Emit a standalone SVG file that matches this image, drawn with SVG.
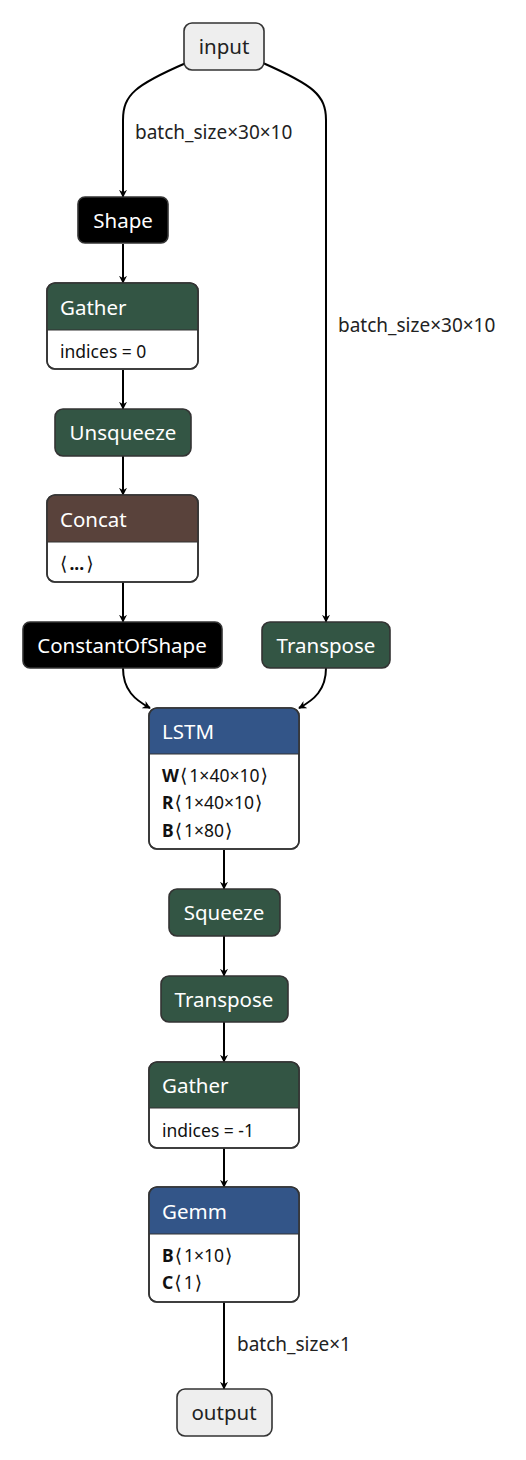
<svg xmlns="http://www.w3.org/2000/svg" width="526" height="1460" viewBox="0 0 526 1460">
<defs>
<marker id="arr" viewBox="0 0 10 10" refX="9" refY="5" markerWidth="8" markerHeight="8" markerUnits="userSpaceOnUse" orient="auto">
<path d="M0,0 L10,5 L0,10 L3,5 Z" fill="#000"/>
</marker>
<style>
.box{stroke:#333;stroke-width:1.6}
.io{fill:#eeeeee}
.blk{fill:#000}
.grn{fill:#335544}
.blu{fill:#335588}
.brn{fill:#59423b}
.wht{fill:#fff}
.t{font-family:"Noto Sans","Open Sans",sans-serif;font-size:20.5px}
.tw{fill:#fff}
.tb{fill:#222}
.a{font-family:"Noto Sans","DejaVu Sans",sans-serif;font-size:17.5px;fill:#111}
.b{font-weight:bold}
.br{font-family:"DejaVu Sans",sans-serif;font-size:19px;font-weight:normal}
.lbl{font-family:"Noto Sans",sans-serif;font-size:19px;fill:#222}
.e{fill:none;stroke:#000;stroke-width:2;marker-end:url(#arr)}
</style>
</defs>
<g id="edges">
<path class="e" d="M186,63 C135,85 123,95 123,120 L123,197"/>
<path class="e" d="M263,63 C313,85 326,95 326,120 L326,622"/>
<path class="e" d="M123,244 L123,283"/>
<path class="e" d="M123,370 L123,409"/>
<path class="e" d="M123,456 L123,495"/>
<path class="e" d="M123,582 L123,622"/>
<path class="e" d="M123,668 C123,690 135,700 150,708"/>
<path class="e" d="M326,668 C326,690 314,700 299,708"/>
<path class="e" d="M224,850 L224,889"/>
<path class="e" d="M224,936 L224,976"/>
<path class="e" d="M224,1022 L224,1062"/>
<path class="e" d="M224,1148 L224,1187"/>
<path class="e" d="M224,1302 L224,1389"/>
<text class="lbl" x="135" y="139">batch_size×30×10</text>
<text class="lbl" x="338" y="332">batch_size×30×10</text>
<text class="lbl" x="237" y="1351">batch_size×1</text>
</g>
<g id="input">
<rect class="box io" x="184" y="23" width="80" height="47" rx="8"/>
<text class="t tb" x="224" y="54" text-anchor="middle">input</text>
</g>
<g id="shape">
<rect class="box blk" x="78" y="197" width="90" height="46" rx="7"/>
<text class="t tw" x="123" y="228" text-anchor="middle">Shape</text>
</g>
<g id="gather1">
<rect class="box wht" x="47" y="283" width="151" height="86" rx="8"/>
<path class="grn" d="M55,283 H190 A8,8 0 0 1 198,291 V330 H47 V291 A8,8 0 0 1 55,283 Z"/>
<rect x="47" y="283" width="151" height="86" rx="8" fill="none" stroke="#333" stroke-width="1.6"/>
<line x1="47" y1="330" x2="198" y2="330" stroke="#333" stroke-width="1.2"/>
<text class="t tw" x="60" y="315">Gather</text>
<text class="a" x="60" y="358">indices = 0</text>
</g>
<g id="unsqueeze">
<rect class="box grn" x="55" y="409" width="136" height="47" rx="8"/>
<text class="t tw" x="123" y="440" text-anchor="middle">Unsqueeze</text>
</g>
<g id="concat">
<rect class="box wht" x="47" y="495" width="151" height="87" rx="8"/>
<path class="brn" d="M55,495 H190 A8,8 0 0 1 198,503 V542 H47 V503 A8,8 0 0 1 55,495 Z"/>
<rect x="47" y="495" width="151" height="87" rx="8" fill="none" stroke="#333" stroke-width="1.6"/>
<line x1="47" y1="542" x2="198" y2="542" stroke="#333" stroke-width="1.2"/>
<text class="t tw" x="60" y="527">Concat</text>
<text class="a" x="60" y="570"><tspan class="br">⟨</tspan><tspan class="b" dx="2">...</tspan><tspan class="br" dx="2">⟩</tspan></text>
</g>
<g id="constantofshape">
<rect class="box blk" x="23" y="622" width="199" height="46" rx="7"/>
<text class="t tw" x="122" y="653" text-anchor="middle">ConstantOfShape</text>
</g>
<g id="transpose1">
<rect class="box grn" x="262" y="622" width="128" height="46" rx="8"/>
<text class="t tw" x="326" y="653" text-anchor="middle">Transpose</text>
</g>
<g id="lstm">
<rect class="box wht" x="149" y="708" width="150" height="141" rx="8"/>
<path class="blu" d="M157,708 H291 A8,8 0 0 1 299,716 V754 H149 V716 A8,8 0 0 1 157,708 Z"/>
<rect x="149" y="708" width="150" height="141" rx="8" fill="none" stroke="#333" stroke-width="1.6"/>
<line x1="149" y1="754" x2="299" y2="754" stroke="#333" stroke-width="1.2"/>
<text class="t tw" x="162" y="739">LSTM</text>
<text class="a" x="162" y="782"><tspan class="b">W</tspan><tspan class="br" dx="1">⟨</tspan><tspan dx="2">1×40×10</tspan><tspan class="br" dx="1">⟩</tspan></text>
<text class="a" x="162" y="809"><tspan class="b">R</tspan><tspan class="br" dx="1">⟨</tspan><tspan dx="2">1×40×10</tspan><tspan class="br" dx="1">⟩</tspan></text>
<text class="a" x="162" y="837"><tspan class="b">B</tspan><tspan class="br" dx="1">⟨</tspan><tspan dx="2">1×80</tspan><tspan class="br" dx="1">⟩</tspan></text>
</g>
<g id="squeeze">
<rect class="box grn" x="169" y="889" width="111" height="47" rx="8"/>
<text class="t tw" x="224" y="920" text-anchor="middle">Squeeze</text>
</g>
<g id="transpose2">
<rect class="box grn" x="161" y="976" width="127" height="46" rx="8"/>
<text class="t tw" x="224" y="1007" text-anchor="middle">Transpose</text>
</g>
<g id="gather2">
<rect class="box wht" x="149" y="1062" width="150" height="86" rx="8"/>
<path class="grn" d="M157,1062 H291 A8,8 0 0 1 299,1070 V1108 H149 V1070 A8,8 0 0 1 157,1062 Z"/>
<rect x="149" y="1062" width="150" height="86" rx="8" fill="none" stroke="#333" stroke-width="1.6"/>
<line x1="149" y1="1108" x2="299" y2="1108" stroke="#333" stroke-width="1.2"/>
<text class="t tw" x="162" y="1093">Gather</text>
<text class="a" x="162" y="1137">indices = -1</text>
</g>
<g id="gemm">
<rect class="box wht" x="149" y="1187" width="150" height="115" rx="8"/>
<path class="blu" d="M157,1187 H291 A8,8 0 0 1 299,1195 V1234 H149 V1195 A8,8 0 0 1 157,1187 Z"/>
<rect x="149" y="1187" width="150" height="115" rx="8" fill="none" stroke="#333" stroke-width="1.6"/>
<line x1="149" y1="1234" x2="299" y2="1234" stroke="#333" stroke-width="1.2"/>
<text class="t tw" x="162" y="1219">Gemm</text>
<text class="a" x="162" y="1262"><tspan class="b">B</tspan><tspan class="br" dx="1">⟨</tspan><tspan dx="2">1×10</tspan><tspan class="br" dx="1">⟩</tspan></text>
<text class="a" x="162" y="1289"><tspan class="b">C</tspan><tspan class="br" dx="1">⟨</tspan><tspan dx="2">1</tspan><tspan class="br" dx="1">⟩</tspan></text>
</g>
<g id="output">
<rect class="box io" x="177" y="1389" width="95" height="47" rx="8"/>
<text class="t tb" x="224" y="1420" text-anchor="middle">output</text>
</g>
</svg>
